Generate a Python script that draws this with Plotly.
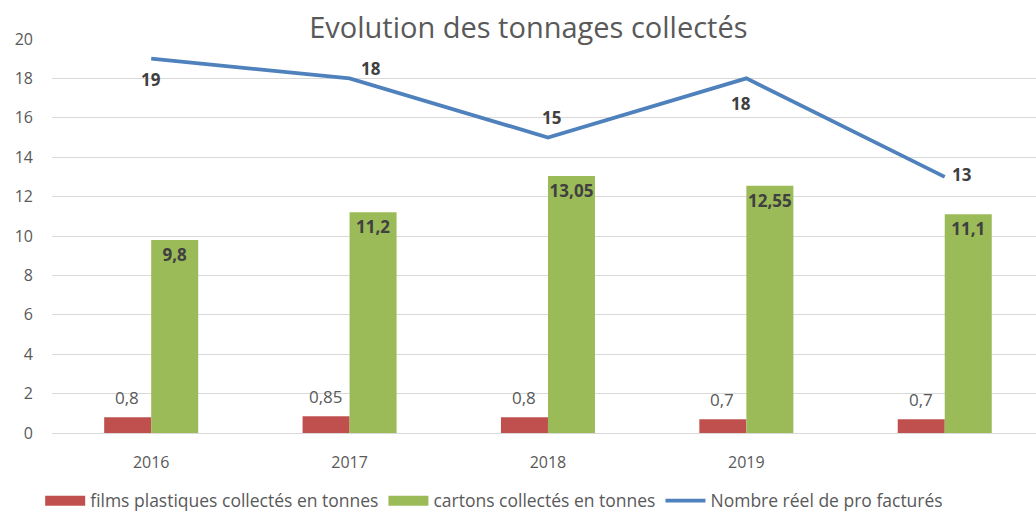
import plotly.graph_objects as go

categories = ["2016", "2017", "2018", "2019", " "]
films = [0.8, 0.85, 0.8, 0.7, 0.7]
cartons = [9.8, 11.2, 13.05, 12.55, 11.1]
pros = [19, 18, 15, 18, 13]
y_ticks = list(range(0, 21, 2))

names = ["films plastiques collectés en tonnes", "cartons collectés en tonnes",
         "Nombre réel de pro facturés"]
colors = ["#C0504D", "#9BBB59", "#4F81BD"]

# label offsets (pixels) for the line labels, style only
line_label_shift = [(0, -21), (21, 10), (4, 20), (-5, -25), (17, 2)]

def fr(v):
    return str(v).replace(".", ",")

FONT = "'Open Sans', sans-serif"
GRAY = "#595959"
DARK = "#404040"

fig = go.Figure()
fig.add_trace(go.Bar(
    x=categories, y=films, name=names[0], showlegend=False,
    marker=dict(color=colors[0], line=dict(width=0)),
))
fig.add_trace(go.Bar(
    x=categories, y=cartons, name=names[1], showlegend=False,
    marker=dict(color=colors[1], line=dict(width=0)),
    text=[fr(v) for v in cartons], textposition="inside", insidetextanchor="end",
    textangle=0,
    textfont=dict(size=17, color=DARK, family=FONT, weight="bold"), constraintext="none",
))
fig.add_trace(go.Scatter(
    x=categories, y=pros, name=names[2], mode="lines", showlegend=False,
    line=dict(color=colors[2], width=3.8),
))
# legend entries (wide rectangular swatches like the original)
for nm, col, w in zip(names, colors, [10, 10, 3.8]):
    fig.add_trace(go.Scatter(x=[None], y=[None], mode="lines", name=nm,
                             line=dict(color=col, width=w), hoverinfo="skip"))

annotations = []
for i, v in enumerate(films):
    annotations.append(dict(x=i, y=v, xref="x", yref="y", text=fr(v), showarrow=False,
                            xanchor="center", yanchor="middle", xshift=-24, yshift=20,
                            font=dict(size=17, color=GRAY, family=FONT)))
for i, (v, (dx, dy)) in enumerate(zip(pros, line_label_shift)):
    annotations.append(dict(x=i, y=v, xref="x", yref="y", text=fr(v), showarrow=False,
                            xanchor="center", yanchor="middle", xshift=dx, yshift=dy,
                            font=dict(size=17, color=DARK, family=FONT, weight="bold")))

fig.update_layout(
    width=1036, height=515,
    margin=dict(l=52, r=0, t=39, b=82, autoexpand=False),
    paper_bgcolor="white", plot_bgcolor="white",
    barmode="group", bargap=0.526, bargroupgap=0,
    title=dict(text="Evolution des tonnages collectés", x=0.51, xanchor="center",
               y=0.945, yanchor="middle",
               font=dict(size=29, color=GRAY, family=FONT)),
    font=dict(family=FONT, color=GRAY),
    legend=dict(orientation="h", x=-0.012, xanchor="left", y=-0.172, yanchor="middle",
                font=dict(size=17.5, color=GRAY, family=FONT), traceorder="normal",
                itemwidth=40, tracegroupgap=0),
    showlegend=True,
    annotations=annotations,
)
fig.update_xaxes(type="category", categoryorder="array", categoryarray=categories,
                 range=[-0.5, 4.46], showgrid=False, showline=False, ticks="",
                 ticklabelstandoff=18,
                 tickfont=dict(size=16, color=GRAY, family=FONT))
fig.update_yaxes(range=[0, 20], tickvals=y_ticks, showgrid=True, gridcolor="#D9D9D9",
                 gridwidth=1, zeroline=True, zerolinecolor="#D9D9D9", zerolinewidth=1,
                 showline=False, ticks="", ticklabelstandoff=18,
                 tickfont=dict(size=16, color=GRAY, family=FONT))

fig.write_html("out.html", config={"displayModeBar": False},
               post_script="document.body.style.margin='0';")
